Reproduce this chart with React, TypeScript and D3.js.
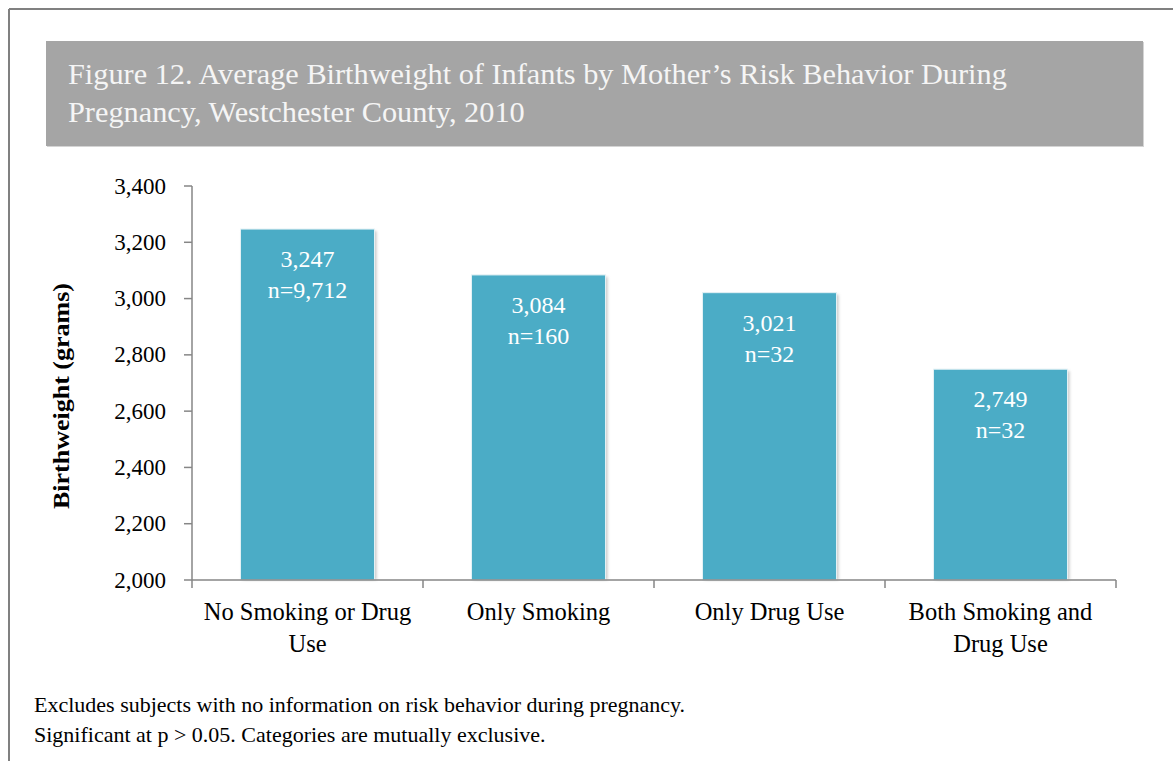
import React from "react";
import * as d3 from "d3";

const categories: string[][] = [
  ["No Smoking or Drug", "Use"],
  ["Only Smoking"],
  ["Only Drug Use"],
  ["Both Smoking and", "Drug Use"],
];
const values: number[] = [3247, 3084, 3021, 2749];
const counts: string[] = ["n=9,712", "n=160", "n=32", "n=32"];
const yTicks: number[] = [2000, 2200, 2400, 2600, 2800, 3000, 3200, 3400];
const titleLines: string[] = [
  "Figure 12. Average Birthweight of Infants by Mother\u2019s Risk Behavior During",
  "Pregnancy, Westchester County, 2010",
];
const notes: string[] = [
  "Excludes subjects with no information on risk behavior during pregnancy.",
  "Significant at p > 0.05. Categories are mutually exclusive.",
];

const FONT = "'Liberation Serif', 'Times New Roman', serif";

export default function App() {
  const W = 1173, H = 761;
  const x0 = 192, x1 = 1116, yTop = 186, yBot = 580;
  const y = d3.scaleLinear().domain([2000, 3400]).range([yBot, yTop]);
  const idx = categories.map((_, i) => String(i));
  const x = d3.scaleBand<string>().domain(idx).range([x0, x1]).paddingInner(0.42).paddingOuter(0.21);
  const step = (x1 - x0) / categories.length;
  const bounds = d3.range(categories.length + 1).map((i) => x0 + i * step);
  const axisColor = "#868686";

  return (
    <svg width={W} height={H} style={{ position: "absolute", left: 0, top: 0 }} fontFamily={FONT}>
      <defs>
        <filter id="shadow" x="-10%" y="-10%" width="130%" height="130%">
          <feGaussianBlur stdDeviation="1.5" />
        </filter>
      </defs>
      <rect x={0} y={0} width={W} height={H} fill="#fff" />
      <line x1={9} y1={9} x2={W} y2={9} stroke="#808080" strokeWidth={2} />
      <line x1={9} y1={9} x2={9} y2={H} stroke="#808080" strokeWidth={2} />

      <rect x={47} y={42} width={1097} height={105} fill="#d4d4d4" />
      <rect x={46} y={41} width={1097} height={105} fill="#a5a5a5" />
      {titleLines.map((t, i) => (
        <text key={i} x={68} y={84 + i * 38} fontSize={30.3} fill="#f5f5f5">{t}</text>
      ))}

      <text transform={`translate(69,396) rotate(-90)`} textAnchor="middle" fontSize={24} fontWeight="bold" fill="#000" textLength={226} lengthAdjust="spacingAndGlyphs">
        Birthweight (grams)
      </text>

      {yTicks.map((t) => (
        <g key={t}>
          <line x1={184} x2={x0} y1={y(t)} y2={y(t)} stroke={axisColor} strokeWidth={1.5} />
          <text x={166} y={y(t) + 7.5} textAnchor="end" fontSize={23} fill="#000">{d3.format(",")(t)}</text>
        </g>
      ))}
      <line x1={x0} x2={x0} y1={yTop} y2={yBot} stroke={axisColor} strokeWidth={1.5} />

      {values.map((v, i) => {
        const bx = x(String(i))!;
        const bw = x.bandwidth();
        const top = y(v);
        return (
          <g key={i}>
            <rect x={bx + 2} y={top + 2} width={bw} height={yBot - top - 2} fill="#9a9a9a" opacity={0.55} filter="url(#shadow)" />
            <rect x={bx} y={top} width={bw} height={yBot - top} fill="#4bacc6" stroke="#e3f1f5" strokeWidth={1} />
            <text x={bx + bw / 2} y={top + 38} textAnchor="middle" fontSize={24} fill="#fff">{d3.format(",")(v)}</text>
            <text x={bx + bw / 2} y={top + 69} textAnchor="middle" fontSize={24} fill="#fff">{counts[i]}</text>
          </g>
        );
      })}

      <line x1={x0} x2={x1} y1={yBot} y2={yBot} stroke={axisColor} strokeWidth={1.5} />
      {bounds.map((b, i) => (
        <line key={i} x1={b} x2={b} y1={yBot} y2={yBot + 8} stroke={axisColor} strokeWidth={1.5} />
      ))}
      {categories.map((lines, i) => (
        <text key={i} textAnchor="middle" fontSize={24.5} fill="#000">
          {lines.map((l, j) => (
            <tspan key={j} x={x(String(i))! + x.bandwidth() / 2} y={620 + j * 32}>{l}</tspan>
          ))}
        </text>
      ))}

      {notes.map((n, i) => (
        <text key={i} x={34} y={712 + i * 30} fontSize={22} fill="#000">{n}</text>
      ))}
    </svg>
  );
}
